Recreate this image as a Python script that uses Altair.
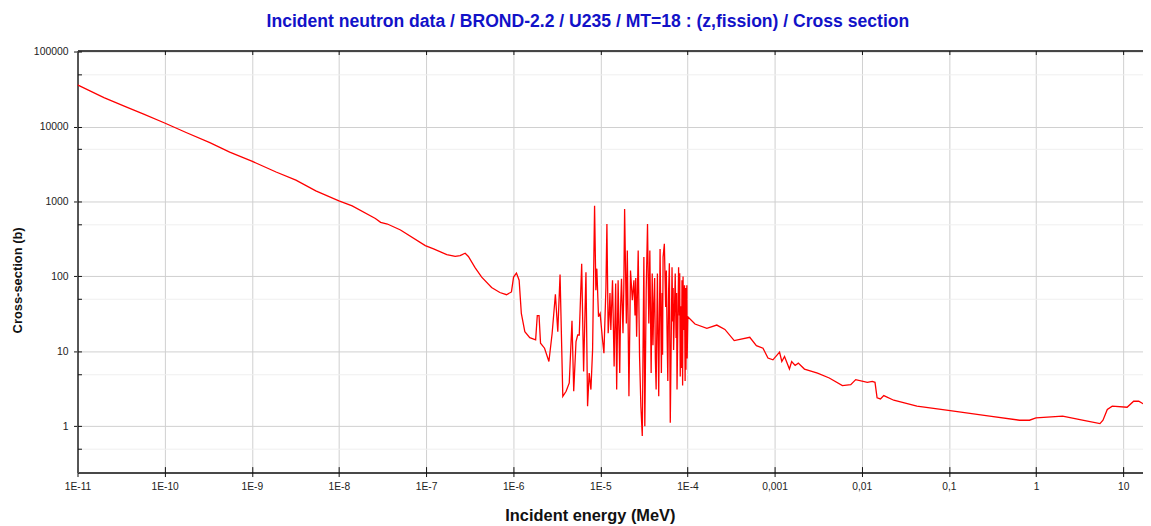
import altair as alt
import pandas as pd

# Incident energy (MeV) and cross-section (b)
energy = [
    1e-11, 2.01e-11, 3.72e-11, 5.75e-11, 1.0e-10, 1.79e-10, 3.30e-10, 5.58e-10,
    1.0e-9, 1.90e-9, 3.21e-9, 5.43e-9, 1.0e-8, 1.42e-8, 2.62e-8, 3.01e-8,
    3.60e-8, 5.09e-8, 9.8e-8, 1.22e-7, 1.73e-7, 2.16e-7, 2.46e-7, 2.81e-7,
    3.06e-7, 3.65e-7, 4.35e-7, 5.65e-7, 7.03e-7, 8.38e-7, 9.55e-7, 1.01e-6,
    1.09e-6, 1.17e-6, 1.24e-6, 1.36e-6, 1.55e-6, 1.81e-6, 1.89e-6, 1.98e-6,
    2.06e-6, 2.29e-6, 2.57e-6, 2.80e-6, 3.05e-6, 3.25e-6, 3.45e-6, 3.71e-6,
    4.05e-6, 4.40e-6, 4.73e-6, 4.95e-6, 5.26e-6, 5.50e-6, 5.73e-6, 6.11e-6,
    6.43e-6, 6.84e-6, 7.14e-6, 7.45e-6, 7.80e-6, 8.15e-6, 8.59e-6, 8.89e-6,
    9.12e-6, 9.53e-6, 9.95e-6, 1.06e-5, 1.10e-5, 1.16e-5, 1.19e-5, 1.23e-5,
    1.26e-5, 1.29e-5, 1.32e-5, 1.38e-5, 1.44e-5, 1.50e-5, 1.52e-5, 1.54e-5,
    1.60e-5, 1.67e-5, 1.71e-5, 1.75e-5, 1.82e-5, 1.86e-5, 1.90e-5, 1.99e-5,
    2.04e-5, 2.13e-5, 2.22e-5, 2.33e-5, 2.43e-5, 2.50e-5, 2.55e-5, 2.61e-5,
    2.72e-5, 2.82e-5, 2.92e-5, 3.03e-5, 3.16e-5, 3.24e-5, 3.36e-5, 3.48e-5,
    3.60e-5, 3.70e-5, 3.83e-5, 3.94e-5, 4.02e-5, 4.10e-5, 4.20e-5, 4.28e-5,
    4.37e-5, 4.52e-5, 4.68e-5, 4.85e-5, 5.02e-5, 5.12e-5, 5.18e-5, 5.25e-5,
    5.43e-5, 5.62e-5, 5.72e-5, 5.83e-5, 5.95e-5, 6.08e-5, 6.20e-5, 6.35e-5,
    6.65e-5, 6.78e-5, 6.85e-5, 6.93e-5, 7.24e-5, 7.40e-5, 7.50e-5, 7.59e-5,
    7.91e-5, 8.08e-5, 8.15e-5, 8.26e-5, 8.45e-5, 8.55e-5, 8.65e-5, 8.80e-5,
    8.90e-5, 9.02e-5, 9.25e-5, 9.40e-5, 9.50e-5, 9.60e-5, 9.84e-5, 9.92e-5,
    1.01e-4, 1.22e-4, 1.67e-4, 2.17e-4, 2.69e-4, 3.44e-4, 5.19e-4, 6.18e-4,
    7.36e-4, 8.39e-4, 9.57e-4, 1.14e-3, 1.21e-3, 1.30e-3, 1.48e-3, 1.57e-3,
    1.72e-3, 1.87e-3, 2.20e-3, 3.11e-3, 4.24e-3, 6.00e-3, 7.48e-3, 8.53e-3,
    1.16e-2, 1.32e-2, 1.42e-2, 1.50e-2, 1.64e-2, 1.79e-2, 2.33e-2, 4.30e-2,
    9.86e-2, 0.294, 0.647, 0.841, 1.0, 2.02, 3.41, 5.42,
    5.87, 6.58, 7.50, 11.1, 13.2, 15.1, 16.9, 20.0,
]
cross_section = [
    36100, 24500, 18100, 14700, 11200, 8290, 6110, 4570,
    3470, 2480, 1930, 1390, 1020, 877, 595, 527,
    501, 417, 258, 233, 196, 185, 190, 204,
    185, 131, 98, 71, 61, 57, 62, 98,
    111, 89, 32, 18.3, 15.2, 14.2, 30, 30,
    12.8, 11, 7.3, 17.4, 57.8, 18.3, 106, 2.5,
    2.92, 3.78, 25.6, 2.92, 13.5, 16.5, 16.5, 148,
    5.38, 114, 1.85, 5.12, 3.08, 10.4, 877, 65.3,
    127, 28.9, 32.1, 14.2, 9.44, 72.3, 501, 17.4,
    28.9, 60, 19.2, 88.7, 6.27, 80.2, 20, 3.08,
    88.7, 5.12, 40, 93.3, 17.4, 70, 793, 23.6,
    222, 2.51, 120, 48.1, 88.7, 30, 95, 15.7,
    222, 8.51, 1.85, 0.738, 181, 1.0, 65.3, 501,
    23.6, 222, 5.12, 109, 12, 39.2, 95, 8,
    3.08, 109, 2.51, 233, 5.12, 60, 9, 181,
    272, 39.2, 120, 19.2, 4, 65.3, 150, 1.11,
    133, 25, 70, 10.4, 109, 15, 60, 3.08,
    133, 30, 110, 4.61, 40, 6, 88.7, 3.5,
    100, 19.2, 76, 4, 70, 5.66, 76, 8,
    28.9, 23.1, 20.3, 22.4, 19.6, 13.9, 15.4, 11.9,
    11.0, 8.11, 7.69, 9.73, 7.30, 8.51, 5.79, 7.30,
    6.46, 6.95, 5.79, 5.12, 4.40, 3.48, 3.58, 4.18,
    3.85, 3.96, 3.85, 2.39, 2.31, 2.56, 2.22, 1.85,
    1.63, 1.36, 1.20, 1.20, 1.29, 1.36, 1.20, 1.08,
    1.20, 1.67, 1.85, 1.79, 2.15, 2.15, 2.0, 1.95,
]

x_tick_values = [1e-11, 1e-10, 1e-9, 1e-8, 1e-7, 1e-6, 1e-5, 1e-4, 1e-3, 1e-2, 1e-1, 1, 10]
x_tick_labels = ["1E-11", "1E-10", "1E-9", "1E-8", "1E-7", "1E-6", "1E-5", "1E-4",
                 "0,001", "0,01", "0,1", "1", "10"]
y_tick_values = [0.5, 1, 5, 10, 50, 100, 500, 1000, 5000, 10000, 50000, 100000]
y_major_labels = ["1", "10", "100", "1000", "10000", "100000"]

title_text = "Incident neutron data / BROND-2.2 / U235 / MT=18 : (z,fission) / Cross section"
x_title = "Incident energy (MeV)"
y_title = "Cross-section (b)"

df = pd.DataFrame({"E": energy, "sigma": cross_section, "i": list(range(len(energy)))})

FONT = "Liberation Sans"
x_label_expr = ("[" + ",".join("'%s'" % s for s in x_tick_labels) + "]"
                "[round(log(datum.value)/LN10) + 11]")
major_test = "abs(log(datum.value)/LN10 - round(log(datum.value)/LN10)) < 0.01"
y_label_expr = ("(" + major_test + ") ? [" + ",".join("'%s'" % s for s in y_major_labels) +
                "][round(log(datum.value)/LN10)] : ''")

xscale = alt.Scale(type="log", domain=[1e-11, 16.9], nice=False)
yscale = alt.Scale(type="log", domain=[0.24, 104000], nice=False)

base = alt.Chart(df).encode(order=alt.Order("i:Q"))

main = base.mark_line(color="#ff0000", strokeWidth=1.3, clip=True).encode(
    x=alt.X("E:Q", scale=xscale, axis=alt.Axis(
        orient="bottom", values=x_tick_values, labelExpr=x_label_expr,
        labelFont=FONT, labelFontSize=10.3, labelColor="#222", labelPadding=5,
        tickSize=4, tickColor="#111", domainColor="#111", domainWidth=1.5,
        grid=True, gridColor="#d0d0d0", gridWidth=1,
        title=x_title, titleFont=FONT, titleFontSize=16.5, titleFontWeight="bold",
        titleColor="#111", titleX=516, titleY=48, titleAlign="center",
        titleBaseline="alphabetic", labelFlush=False, labelOverlap=False)),
    y=alt.Y("sigma:Q", scale=yscale, axis=alt.Axis(
        orient="left", values=y_tick_values, labelExpr=y_label_expr,
        labelFont=FONT, labelFontSize=10.5, labelColor="#222", labelPadding=5.5,
        tickSize={"condition": {"test": major_test, "value": 4}, "value": 0},
        tickColor="#111", domainColor="#555", domainWidth=2,
        grid=True,
        gridColor={"condition": {"test": major_test, "value": "#d0d0d0"}, "value": "#efefef"},
        title=y_title, titleFont=FONT, titleFontSize=13, titleFontWeight="bold",
        titleColor="#111", titleX=-60, titleY=231, titleAngle=270,
        titleAlign="center", titleBaseline="middle", labelOverlap=False)),
)

# top frame line + inward left ticks
layer2 = base.mark_line(opacity=0, clip=True).encode(
    x=alt.X("E:Q", scale=xscale, axis=alt.Axis(
        orient="top", values=x_tick_values, labels=False, ticks=False, grid=False,
        domain=True, domainColor="#111", domainWidth=1.5, title=None)),
    y=alt.Y("sigma:Q", scale=yscale, axis=alt.Axis(
        orient="left", values=y_tick_values, labels=False, domain=False, grid=False,
        offset=-4, tickSize=4, tickColor="#111", title=None)),
)
# inward top ticks
layer3 = base.mark_line(opacity=0, clip=True).encode(
    x=alt.X("E:Q", scale=xscale, axis=alt.Axis(
        orient="top", values=x_tick_values, labels=False, domain=False, grid=False,
        offset=-4, tickSize=4, tickColor="#111", title=None)),
    y=alt.Y("sigma:Q", scale=yscale, axis=None),
)
# inward bottom ticks
layer4 = base.mark_line(opacity=0, clip=True).encode(
    x=alt.X("E:Q", scale=xscale, axis=alt.Axis(
        orient="bottom", values=x_tick_values, labels=False, domain=False, grid=False,
        offset=-6, tickSize=6, tickColor="#111", title=None)),
    y=alt.Y("sigma:Q", scale=yscale, axis=None),
)

chart = alt.layer(main, layer2, layer3, layer4).resolve_axis(
    x="independent", y="independent"
).properties(
    width=1073,
    height=425,
    autosize=alt.AutoSizeParams(type="none"),
    padding={"left": 70, "top": 41, "right": 0, "bottom": 55},
    title=alt.TitleParams(
        text=title_text, color="#1212c8", font=FONT, fontSize=17.7, fontWeight="bold",
        anchor="middle", frame="group", dx=-22.5, offset=2, baseline="alphabetic"),
).configure_view(stroke=None).configure(background="white")

chart.save("out.html", embed_options={"renderer": "svg", "actions": False})
